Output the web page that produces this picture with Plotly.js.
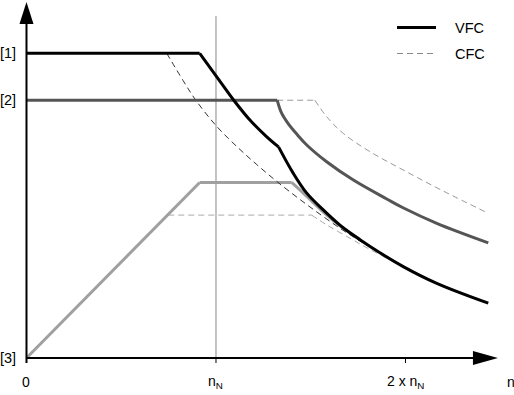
<!DOCTYPE html>
<html>
<head>
<meta charset="utf-8">
<script src="https://cdn.plot.ly/plotly-3.0.1.min.js"></script>
<style>html,body{margin:0;padding:0;background:#fff;}#chart{width:514px;height:395px;}</style>
</head>
<body>
<div id="chart"></div>
<script>
// x in units of n_N, y as a fraction of level [1]
const xTickVals = [0, 1, 2];
const xTickText = ['0', 'n<sub>N</sub>', '2 x n<sub>N</sub>'];
const yTickVals = [1.0, 0.846, 0.0];
const yTickText = ['[1]', '[2]', '[3]'];
const legendNames = ['VFC', 'CFC'];

// VFC, level [1] (black solid)
const vfc1X = [0, 0.914, 1.004, 1.100, 1.179, 1.268, 1.330, 1.408, 1.479, 1.566, 1.654, 1.707, 1.813, 1.988, 2.165, 2.437];
const vfc1Y = [1.0, 1.0, 0.923, 0.841, 0.781, 0.726, 0.693, 0.606, 0.541, 0.486, 0.436, 0.411, 0.366, 0.300, 0.245, 0.180];
// VFC, level [2] (dark grey solid)
const vfc2X = [0, 1.323, 1.345, 1.380, 1.430, 1.479, 1.584, 1.725, 1.901, 1.987, 2.165, 2.437];
const vfc2Y = [0.846, 0.846, 0.805, 0.770, 0.732, 0.699, 0.644, 0.584, 0.522, 0.493, 0.442, 0.378];
// VFC, level [3] (light grey solid)
const vfc3X = [0, 0.914, 1.399, 1.461, 1.558, 1.654, 1.707, 1.760];
const vfc3Y = [0, 0.576, 0.576, 0.541, 0.484, 0.434, 0.411, 0.390];
// CFC, level [1] (dark dashed)
const cfc1X = [0, 0.740, 0.827, 0.889, 1.004, 1.127, 1.215, 1.302, 1.391, 1.513, 1.654, 1.760, 1.860];
const cfc1Y = [1.0, 1.0, 0.910, 0.850, 0.760, 0.684, 0.635, 0.589, 0.545, 0.488, 0.426, 0.384, 0.347];
// CFC, level [2] (light dashed)
const cfc2X = [1.323, 1.522, 1.584, 1.672, 1.813, 1.988, 2.199, 2.437];
const cfc2Y = [0.846, 0.846, 0.792, 0.737, 0.677, 0.617, 0.548, 0.475];
// CFC, level [3] (light dashed)
const cfc3X = [0.748, 1.505, 1.584, 1.707, 1.813, 1.954, 2.024];
const cfc3Y = [0.469, 0.469, 0.437, 0.393, 0.356, 0.311, 0.292];

const FONT = 'Liberation Sans, Arial, Helvetica, sans-serif';
const DASH = '6px,4px';

const traces = [];
// draw a curve as pieces: straight pieces stay linear, curved pieces are smoothed
function addCurve(xs, ys, breaks, curvedFrom, line) {
  for (let k = 0; k < breaks.length - 1; k++) {
    const a = breaks[k], b = breaks[k + 1];
    traces.push({
      x: xs.slice(a, b + 1), y: ys.slice(a, b + 1), mode: 'lines',
      line: Object.assign({}, line, a >= curvedFrom ? {shape: 'spline', smoothing: 1} : {shape: 'linear'}),
      showlegend: false, hoverinfo: 'skip'
    });
  }
}
addCurve(cfc3X, cfc3Y, [0, 1, cfc3X.length - 1], 1, {color: '#aaaaaa', width: 1, dash: DASH});
addCurve(cfc2X, cfc2Y, [0, 1, cfc2X.length - 1], 1, {color: '#999999', width: 1, dash: DASH});
addCurve(vfc3X, vfc3Y, [0, 1, 2, vfc3X.length - 1], 2, {color: '#a0a0a0', width: 3});
addCurve(cfc1X, cfc1Y, [0, 1, cfc1X.length - 1], 1, {color: '#333333', width: 1, dash: DASH});
addCurve(vfc2X, vfc2Y, [0, 1, vfc2X.length - 1], 1, {color: '#555555', width: 3});
addCurve(vfc1X, vfc1Y, [0, 1, 6, vfc1X.length - 1], 1, {color: '#000000', width: 3});

const shapes = [
  // vertical reference line at n_N
  {type: 'line', xref: 'x', yref: 'y', x0: 1, x1: 1, y0: 0, y1: 1.122, line: {color: '#888888', width: 1}, layer: 'below'},
  // axes
  {type: 'line', xref: 'x', yref: 'y', x0: 0, x1: 0, y0: -0.0164, y1: 1.10, line: {color: '#000', width: 2}},
  {type: 'line', xref: 'x', yref: 'y', x0: 0, x1: 2.36, y0: 0, y1: 0, line: {color: '#000', width: 2}},
  {type: 'path', xref: 'x', yref: 'y', path: 'M -0.037 1.096 L 0.037 1.096 L 0 1.168 Z', fillcolor: '#000', line: {width: 0}},
  {type: 'path', xref: 'x', yref: 'y', path: 'M 2.356 -0.023 L 2.356 0.023 L 2.488 0 Z', fillcolor: '#000', line: {width: 0}}
];
xTickVals.forEach(v => {
  if (v !== 0) shapes.push({type: 'line', xref: 'x', yref: 'y', x0: v, x1: v, y0: 0, y1: -0.0164, line: {color: '#000', width: 1}});
});
// legend samples
shapes.push({type: 'line', xref: 'paper', yref: 'paper', x0: 397 / 514, x1: 436 / 514, y0: 1 - 27.5 / 395, y1: 1 - 27.5 / 395, line: {color: '#000', width: 3}});
shapes.push({type: 'line', xref: 'paper', yref: 'paper', x0: 397 / 514, x1: 436 / 514, y0: 1 - 53.5 / 395, y1: 1 - 53.5 / 395, line: {color: '#888888', width: 1, dash: DASH}});

const annotations = [];
xTickVals.forEach((v, i) => {
  annotations.push({x: v, y: -0.078, xref: 'x', yref: 'y', text: xTickText[i], showarrow: false, xanchor: 'center', yanchor: 'middle', font: {family: FONT, size: 14, color: '#000'}});
});
annotations.push({x: 2.555, y: -0.078, xref: 'x', yref: 'y', text: 'n', showarrow: false, xanchor: 'center', yanchor: 'middle', font: {family: FONT, size: 14, color: '#000'}});
yTickVals.forEach((v, i) => {
  annotations.push({x: -0.0977, y: v, xref: 'x', yref: 'y', text: yTickText[i], showarrow: false, xanchor: 'center', yanchor: 'middle', font: {family: FONT, size: 14.5, color: '#000'}});
});
legendNames.forEach((n, i) => {
  annotations.push({x: 453 / 514, y: 1 - (i === 0 ? 28 : 54) / 395, xref: 'paper', yref: 'paper', text: n, showarrow: false, xanchor: 'left', yanchor: 'middle', font: {family: FONT, size: 14.5, color: '#000'}});
});

const layout = {
  width: 514, height: 395,
  margin: {l: 0, r: 0, t: 0, b: 0, pad: 0},
  paper_bgcolor: '#ffffff', plot_bgcolor: '#ffffff',
  showlegend: false,
  xaxis: {range: [-0.1398, 2.5726], visible: false, fixedrange: true},
  yaxis: {range: [-0.1214, 1.1749], visible: false, fixedrange: true},
  shapes: shapes,
  annotations: annotations
};

Plotly.newPlot('chart', traces, layout, {staticPlot: true, displayModeBar: false});
</script>
</body>
</html>
